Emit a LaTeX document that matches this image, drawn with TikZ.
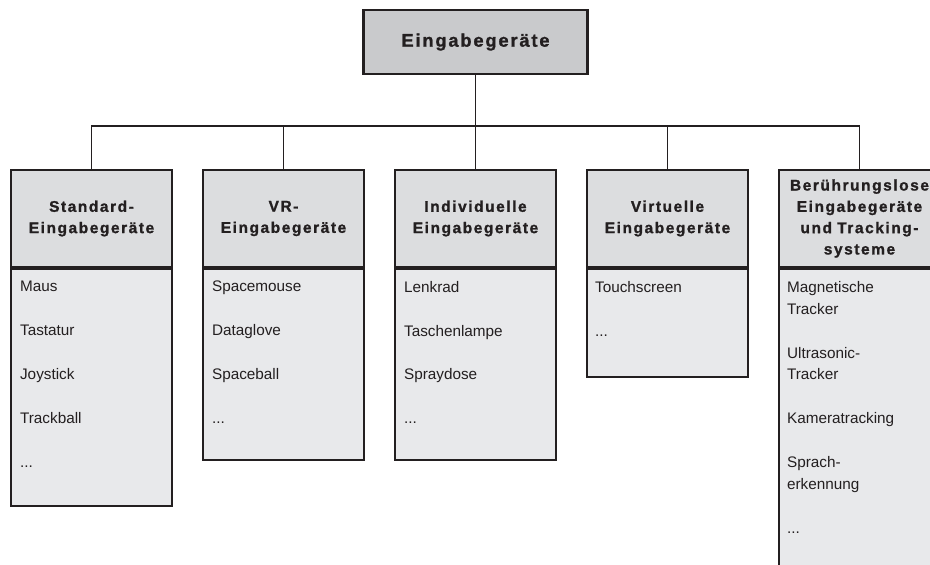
\documentclass[tikz,border=0pt]{standalone}
\usepackage{fontspec}
\setmainfont{Liberation Sans}
\newfontfamily\hdrfont[LetterSpace=10,FakeBold=1.2]{Liberation Sans Bold}
\definecolor{ink}{HTML}{231F20}
\definecolor{titlegray}{HTML}{C9CACC}
\definecolor{hdrgray}{HTML}{DCDDDF}
\definecolor{bodygray}{HTML}{E8E9EB}
\begin{document}
\begin{tikzpicture}[x=1pt,y=1pt,
  titlebox/.style={draw=ink, line width=2.2pt, fill=titlegray, minimum width=224pt,
    minimum height=64pt, inner sep=0pt, text=ink,
    font=\hdrfont\fontsize{18.3}{21}\selectfont},
  hdrbox/.style={draw=ink, line width=2.2pt, fill=hdrgray, minimum width=161pt,
    minimum height=97pt, text width=158pt, align=center, inner sep=0pt, text=ink,
    font=\hdrfont\fontsize{15.5}{21.3}\selectfont},
  bodybox/.style={draw=ink, line width=2.2pt, fill=bodygray, minimum width=161pt,
    anchor=north, inner sep=0pt},
  itemlist/.style={anchor=north west, align=left, inner sep=0pt, text=ink,
    font=\fontsize{15.3}{21.9}\selectfont},
  conn/.style={draw=ink, line width=1.9pt}]
\useasboundingbox (0,0) rectangle (930,-565);
\clip (0,0) rectangle (930,-565);

% root
\node[titlebox] (root) at (475.5,-42) {Eingabeger\"ate};
\coordinate (bus) at (475.5,-126);

% category headers
\node[hdrbox] (h1) at (91.5,-218.5)  {Standard-\\Eingabeger\"ate};
\node[hdrbox] (h2) at (283.5,-218.5) {VR-\\Eingabeger\"ate};
\node[hdrbox] (h3) at (475.5,-218.5) {Individuelle\\Eingabeger\"ate};
\node[hdrbox] (h4) at (667.5,-218.5) {Virtuelle\\Eingabeger\"ate};
\node[hdrbox] (h5) at (859.5,-218.5) {Ber\"uhrungslose\\Eingabeger\"ate\\und Tracking-\\systeme};

% item panels
\node[bodybox, minimum height=237pt] (b1) at (h1.south) {};
\node[bodybox, minimum height=191pt] (b2) at (h2.south) {};
\node[bodybox, minimum height=191pt] (b3) at (h3.south) {};
\node[bodybox, minimum height=108pt] (b4) at (h4.south) {};
\node[bodybox, minimum height=333pt] (b5) at (h5.south) {};

% item lists
\node[itemlist] (l1) at ([shift={(10pt,-13pt)}]b1.north west)
  {Maus\\[21.9pt]Tastatur\\[21.9pt]Joystick\\[21.9pt]Trackball\\[21.9pt]...};
\node[itemlist] (l2) at ([shift={(10pt,-13pt)}]b2.north west)
  {Spacemouse\\[21.9pt]Dataglove\\[21.9pt]Spaceball\\[21.9pt]...};
\node[itemlist] (l3) at ([shift={(10pt,-13pt)}]b3.north west)
  {Lenkrad\\[21.9pt]Taschenlampe\\[21.9pt]Spraydose\\[21.9pt]...};
\node[itemlist] (l4) at ([shift={(9pt,-13pt)}]b4.north west)
  {Touchscreen\\[21.9pt]...};
\node[itemlist] (l5) at ([shift={(9pt,-13pt)}]b5.north west)
  {Magnetische\\Tracker\\[21.9pt]Ultrasonic-\\Tracker\\[21.9pt]Kameratracking\\[21.9pt]Sprach-\\erkennung\\[21.9pt]...};

% connectors
\draw[conn] (root.south) -- (bus);
\draw[conn] (h1.north) |- (bus);
\draw[conn] (h2.north) |- (bus);
\draw[conn] (h3.north) -- (bus);
\draw[conn] (h4.north) |- (bus);
\draw[conn] (h5.north) |- (bus);
\end{tikzpicture}
\end{document}
